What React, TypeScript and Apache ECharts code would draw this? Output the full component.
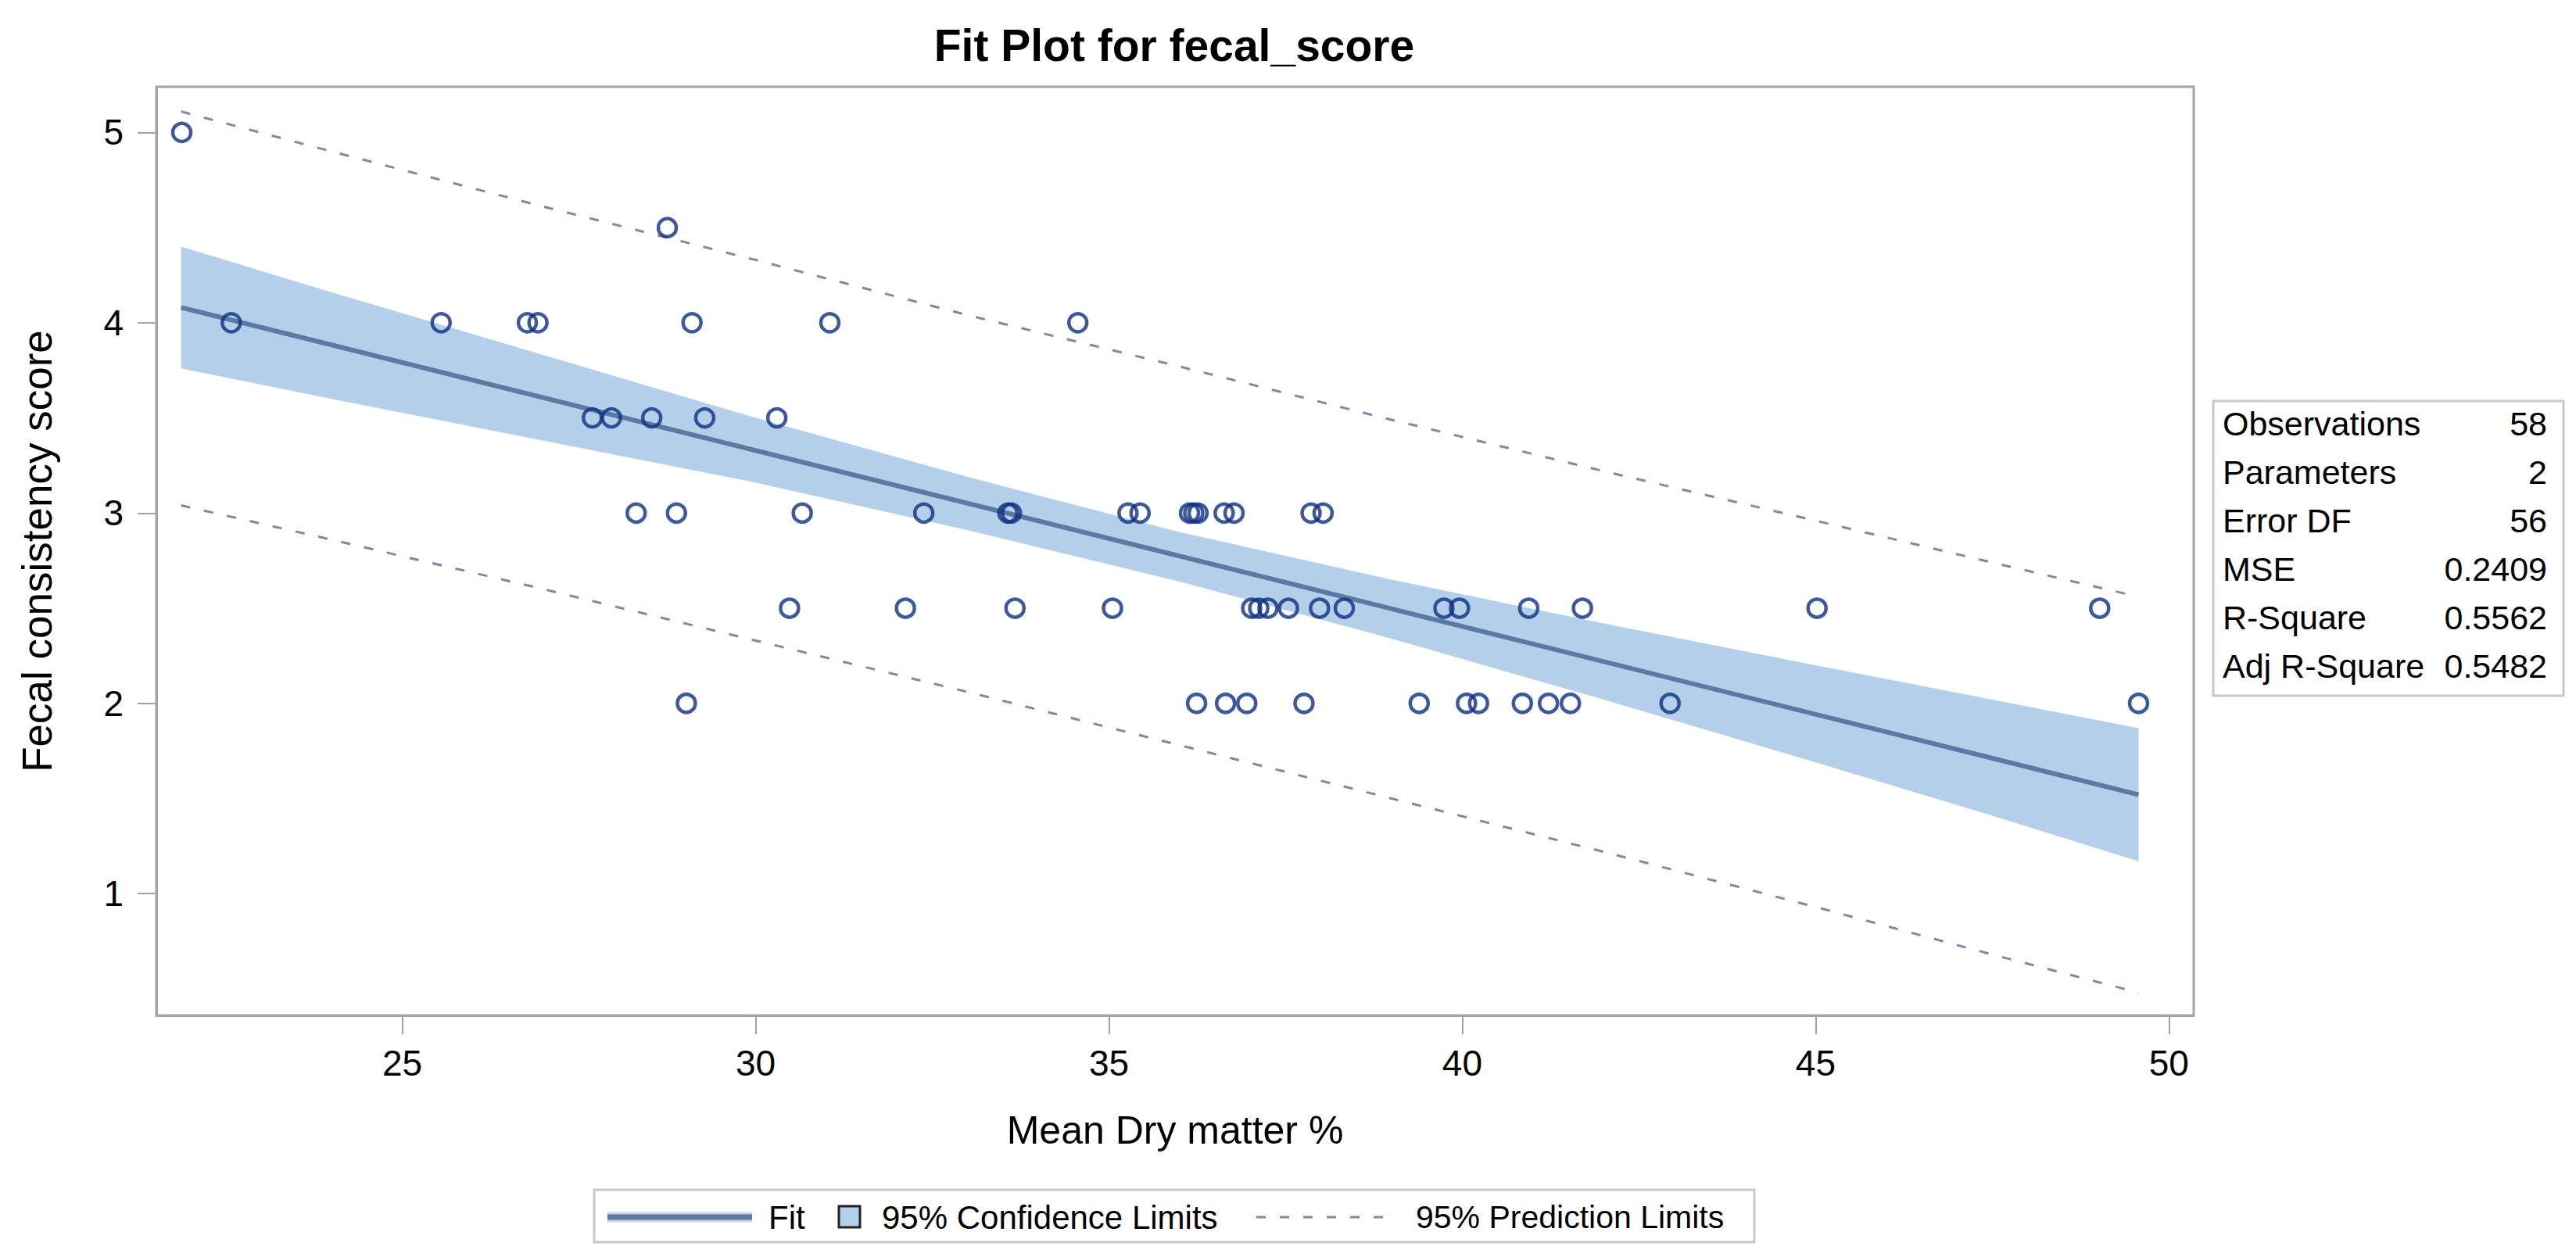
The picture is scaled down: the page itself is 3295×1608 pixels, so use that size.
import React, { useEffect, useRef } from "react";
import * as echarts from "echarts";

// ---- data ----
const dryMatter = [
  21.88,
  28.75,
  22.58, 25.55, 26.77, 26.92, 29.1, 31.05, 34.56,
  27.69, 27.96, 28.53, 29.28, 30.3,
  28.31, 28.88, 30.66, 32.38, 33.57, 33.62, 35.27, 35.44, 36.14, 36.2, 36.26, 36.63, 36.77, 37.86, 38.03,
  30.48, 32.12, 33.67, 35.05, 37.02, 37.12, 37.25, 37.54, 37.98, 38.33, 39.74, 39.96, 40.94, 41.7, 45.02, 49.02,
  29.02, 36.24, 36.65, 36.95, 37.76, 39.39, 40.06, 40.23, 40.85, 41.22, 41.53, 42.94, 49.57,
];
const fecalScore = [
  5,
  4.5,
  4, 4, 4, 4, 4, 4, 4,
  3.5, 3.5, 3.5, 3.5, 3.5,
  3, 3, 3, 3, 3, 3, 3, 3, 3, 3, 3, 3, 3, 3, 3,
  2.5, 2.5, 2.5, 2.5, 2.5, 2.5, 2.5, 2.5, 2.5, 2.5, 2.5, 2.5, 2.5, 2.5, 2.5, 2.5,
  2, 2, 2, 2, 2, 2, 2, 2, 2, 2, 2, 2, 2,
];

const fitX = [21.87, 49.57];
const fitY = [4.08, 1.52];

const limX = [21.87, 24, 27, 30, 33, 36, 39, 42, 45, 47.5, 49.57];
const ciLower = [3.76, 3.6, 3.38, 3.16, 2.91, 2.64, 2.34, 2.02, 1.69, 1.41, 1.17];
const ciUpper = [4.4, 4.16, 3.83, 3.5, 3.19, 2.9, 2.65, 2.42, 2.2, 2.02, 1.87];
const piLower = [3.04, 2.86, 2.6, 2.33, 2.06, 1.78, 1.5, 1.22, 0.93, 0.68, 0.48];
const piUpper = [5.11, 4.9, 4.61, 4.33, 4.04, 3.77, 3.49, 3.22, 2.96, 2.74, 2.56];

const xTicks = [25, 30, 35, 40, 45, 50];
const yTicks = [1, 2, 3, 4, 5];

const statLabels = ["Observations", "Parameters", "Error DF", "MSE", "R-Square", "Adj R-Square"];
const statValues = ["58", "2", "56", "0.2409", "0.5562", "0.5482"];

const titleText = "Fit Plot for fecal_score";
const xName = "Mean Dry matter %";
const yName = "Fecal consistency score";
const legendNames = ["Fit", "95% Confidence Limits", "95% Prediction Limits"];

const FONT = "'Liberation Sans', Arial, sans-serif";
const C_POINT = "#0e2f82";
const C_FIT = "#5a79a3";
const C_BAND = "#b4cfe9";
const C_PRED = "#8088a8";
const C_FRAME = "#a3a3a3";

export default function App() {
  const ref = useRef<HTMLDivElement>(null);

  useEffect(() => {
    if (!ref.current) return;
    const chart = echarts.init(ref.current, undefined, { renderer: "svg" });

    const statGraphics: any[] = [
      {
        type: "rect",
        shape: { x: 2831, y: 513, width: 448, height: 377 },
        style: { fill: "#fff", stroke: "#c8c8c8", lineWidth: 3 },
      },
    ];
    statLabels.forEach((lab, i) => {
      const y = 542 + i * 62;
      statGraphics.push({
        type: "text",
        x: 2843,
        y,
        style: { text: lab, font: `43px ${FONT}`, fill: "#000", textAlign: "left", textVerticalAlign: "middle" },
      });
      statGraphics.push({
        type: "text",
        x: 3258,
        y,
        style: { text: statValues[i], font: `43px ${FONT}`, fill: "#000", textAlign: "right", textVerticalAlign: "middle" },
      });
    });

    const ly = 1557;
    const legendGraphics: any[] = [
      {
        type: "rect",
        shape: { x: 760, y: 1522, width: 1484, height: 67 },
        style: { fill: "#fff", stroke: "#c8c8c8", lineWidth: 3 },
      },
      { type: "line", shape: { x1: 777, y1: ly, x2: 962, y2: ly }, style: { stroke: "#c7d5e6", lineWidth: 13 } },
      { type: "line", shape: { x1: 777, y1: ly, x2: 962, y2: ly }, style: { stroke: C_FIT, lineWidth: 7 } },
      {
        type: "text",
        x: 983,
        y: ly,
        style: { text: legendNames[0], font: `42px ${FONT}`, fill: "#000", textVerticalAlign: "middle" },
      },
      {
        type: "rect",
        shape: { x: 1073, y: 1543, width: 27, height: 27 },
        style: { fill: C_BAND, stroke: "#222", lineWidth: 3 },
      },
      {
        type: "text",
        x: 1128,
        y: ly,
        style: { text: legendNames[1], font: `42px ${FONT}`, fill: "#000", textVerticalAlign: "middle" },
      },
      {
        type: "line",
        shape: { x1: 1607, y1: ly, x2: 1786, y2: ly },
        style: { stroke: C_PRED, lineWidth: 3, lineDash: [12, 18] },
      },
      {
        type: "text",
        x: 1811,
        y: ly,
        style: { text: legendNames[2], font: `41px ${FONT}`, fill: "#000", textVerticalAlign: "middle" },
      },
    ];

    const option: any = {
      animation: false,
      backgroundColor: "#fff",
      grid: {
        left: 200,
        top: 111,
        right: 3295 - 2806,
        bottom: 1608 - 1299,
        show: true,
        borderColor: C_FRAME,
        borderWidth: 3,
        backgroundColor: "transparent",
      },
      xAxis: {
        type: "value",
        min: 21.52,
        max: 50.35,
        name: xName,
        nameLocation: "middle",
        nameGap: 122,
        nameTextStyle: { fontFamily: FONT, fontSize: 50, color: "#000" },
        axisLine: { show: true, lineStyle: { color: C_FRAME, width: 3 } },
        axisTick: { show: true, customValues: xTicks, length: 24, lineStyle: { color: C_FRAME, width: 2 } },
        axisLabel: { customValues: xTicks, fontFamily: FONT, fontSize: 46, color: "#000", margin: 38 },
        splitLine: { show: false },
      },
      yAxis: {
        type: "value",
        min: 0.36,
        max: 5.24,
        name: yName,
        nameLocation: "middle",
        nameGap: 126,
        nameTextStyle: { fontFamily: FONT, fontSize: 53, color: "#000" },
        axisLine: { show: true, lineStyle: { color: C_FRAME, width: 3 } },
        axisTick: { show: true, customValues: yTicks, length: 24, lineStyle: { color: C_FRAME, width: 2 } },
        axisLabel: { customValues: yTicks, fontFamily: FONT, fontSize: 46, color: "#000", margin: 42 },
        splitLine: { show: false },
      },
      graphic: [
        {
          type: "text",
          x: 1502,
          y: 58,
          style: {
            text: titleText,
            font: `bold 57px ${FONT}`,
            fill: "#000",
            textAlign: "center",
            textVerticalAlign: "middle",
          },
        },
        ...statGraphics,
        ...legendGraphics,
      ],
      series: [
        {
          name: legendNames[1],
          type: "custom",
          z: 1,
          clip: true,
          data: [[limX[0], ciLower[0]]],
          encode: { x: 0, y: 1 },
          renderItem: (params: any, api: any) => {
            if (params.dataIndex !== 0) return null;
            const pts: number[][] = [];
            for (let i = 0; i < limX.length; i++) pts.push(api.coord([limX[i], ciUpper[i]]));
            for (let i = limX.length - 1; i >= 0; i--) pts.push(api.coord([limX[i], ciLower[i]]));
            return { type: "polygon", shape: { points: pts }, style: { fill: C_BAND } };
          },
        },
        {
          name: legendNames[0],
          type: "line",
          z: 3,
          symbol: "none",
          data: fitX.map((x, i) => [x, fitY[i]]),
          lineStyle: { color: C_FIT, width: 6 },
        },
        {
          name: legendNames[2],
          type: "line",
          z: 3,
          symbol: "none",
          data: limX.map((x, i) => [x, piUpper[i]]),
          lineStyle: { color: C_PRED, width: 3, type: [12, 18] },
        },
        {
          name: legendNames[2],
          type: "line",
          z: 3,
          symbol: "none",
          data: limX.map((x, i) => [x, piLower[i]]),
          lineStyle: { color: C_PRED, width: 3, type: [12, 18] },
        },
        {
          name: "Observations",
          type: "scatter",
          z: 4,
          symbol: "circle",
          symbolSize: 23,
          data: dryMatter.map((x, i) => [x, fecalScore[i]]),
          itemStyle: { color: "rgba(0,0,0,0)", borderColor: C_POINT, borderWidth: 4.5 },
        },
      ],
    };

    chart.setOption(option);
    return () => chart.dispose();
  }, []);

  return (
    <div
      ref={ref}
      style={{ position: "absolute", left: 0, top: 0, width: "3295px", height: "1608px", background: "#fff" }}
    />
  );
}
